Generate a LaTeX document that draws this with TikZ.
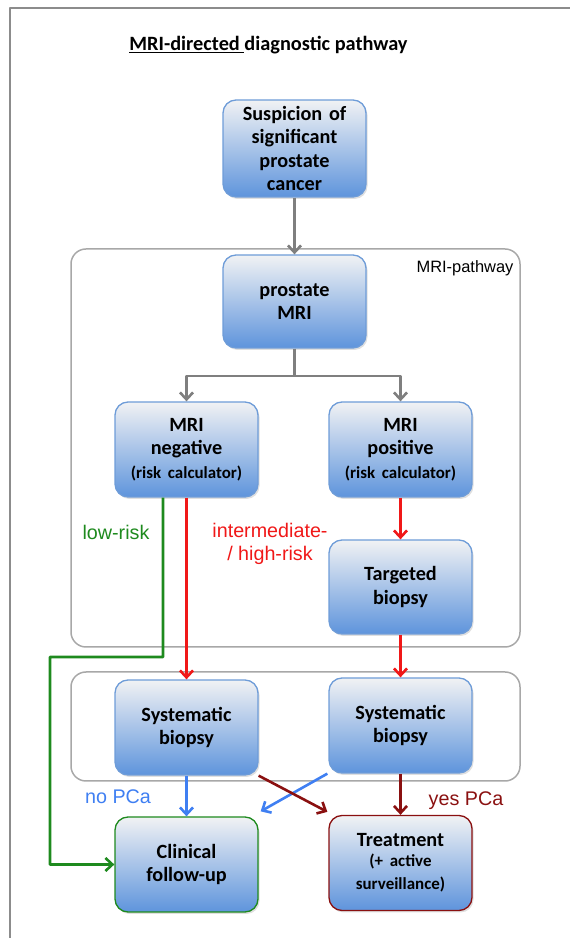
\documentclass[tikz,border=0pt]{standalone}
\usepackage{fontspec}
\setmainfont{Carlito}
\newfontfamily\labelfont{Liberation Sans}
\usetikzlibrary{arrows.meta,shadows}
\definecolor{boxtop}{HTML}{F1F2F4}
\definecolor{boxbot}{HTML}{5E94DC}
\definecolor{boxline}{HTML}{6E9CD8}
\definecolor{framegray}{HTML}{A8A8A8}
\definecolor{pagegray}{HTML}{8C8C8C}
\definecolor{arrowgray}{HTML}{7F7F7F}
\definecolor{riskred}{HTML}{F01818}
\definecolor{lowgreen}{HTML}{1E8A1E}
\definecolor{noblue}{HTML}{3F7FF2}
\definecolor{yesred}{HTML}{8A1010}
\begin{document}
\begin{tikzpicture}[>={Straight Barb[length=7bp,width=13bp]},line join=bevel,
  stepbox/.style={rounded corners=13bp,minimum width=143bp,minimum height=95bp,inner sep=2bp,
    top color=boxtop,bottom color=boxbot,draw=boxline,line width=1.3bp,
    text width=139bp,align=center,font=\fontsize{20.3}{23.5}\selectfont\bfseries,
    drop shadow={opacity=0.25,shadow xshift=1.5bp,shadow yshift=-2bp}},
  groupframe/.style={draw=framegray,line width=1.5bp,rounded corners=15bp,inner sep=0pt},
  flow/.style={->,line width=2.6bp},
  pathlabel/.style={font=\labelfont\fontsize{19.8}{23}\selectfont,align=center,inner sep=0pt}]
%%
\useasboundingbox (0bp,0bp) rectangle (570bp,938bp);
\draw [pagegray,line width=2bp] (10bp,0bp) -- (10bp,930bp) -- (570bp,930bp);
%
\node (node_title) at (268.5bp,893bp) [font=\fontsize{20.4}{24}\selectfont\bfseries] {\underline{MRI-directed\ }diagnostic pathway};
%
\node (node_mripath) at (295.5bp,490bp) [groupframe,minimum width=449bp,minimum height=398bp] {};
\node (node_mripath_label) at (465bp,670bp) [font=\labelfont\fontsize{16.5}{20}\selectfont] {MRI-pathway};
\node (node_biopsies) at (295.5bp,211.5bp) [groupframe,minimum width=449bp,minimum height=109bp] {};
%
\node (node_suspicion) at (294.5bp,789.5bp) [stepbox,minimum height=97bp] {Suspicion of\\significant\\prostate\\cancer};
\node (node_mri) at (294.5bp,636.5bp) [stepbox,minimum height=93bp] {prostate\\MRI};
\node (node_negative) at (186.5bp,488.5bp) [stepbox] {MRI\\negative\\{\fontsize{17}{20}\selectfont (risk calculator)}};
\node (node_positive) at (400.5bp,488.5bp) [stepbox] {MRI\\positive\\{\fontsize{17}{20}\selectfont (risk calculator)}};
\node (node_targeted) at (400.5bp,351bp) [stepbox,minimum height=94bp] {Targeted\\biopsy};
\node (node_sys_left) at (186.5bp,210.5bp) [stepbox] {Systematic\\biopsy};
\node (node_sys_right) at (400.5bp,212.5bp) [stepbox] {Systematic\\biopsy};
\node (node_followup) at (186.5bp,73.5bp) [stepbox,draw=lowgreen] {Clinical\\follow-up};
\node (node_treatment) at (400.5bp,75bp) [stepbox,draw=yesred] {Treatment\\{\fontsize{17}{20}\selectfont (+ active\\surveillance)}};
%
\coordinate (branch) at (294.5bp,562bp);
\coordinate (lowrisk_turn) at (163bp,281bp);
\coordinate (lowrisk_side) at (50bp,281bp);
%
\draw [arrowgray,flow] (node_suspicion) -- (node_mri.north);
\draw [arrowgray,flow] (node_mri.south) -- (branch) -| (node_negative.north);
\draw [arrowgray,flow] (branch) -| (node_positive.north);
%
\draw [lowgreen,flow] ([xshift=-23.5bp]node_negative.south) -- (lowrisk_turn) -- (lowrisk_side) |- (node_followup.west);
\draw [riskred,flow] (node_negative.south) -- (node_sys_left.north);
\draw [riskred,flow] (node_positive.south) -- (node_targeted.north);
\draw [riskred,flow] (node_targeted.south) -- (node_sys_right.north);
%
\draw [noblue,flow] (node_sys_left.south) -- (node_followup.north);
\draw [noblue,flow] ([xshift=-1bp]node_sys_right.south west) -- ([xshift=2bp,yshift=5bp]node_followup.north east);
\draw [yesred,flow] (node_sys_left.south east) -- ([xshift=-1bp,yshift=3bp]node_treatment.north west);
\draw [yesred,flow] (node_sys_right.south) -- (node_treatment.north);
%
\node (node_lowrisk) at (116bp,406bp) [pathlabel,text=lowgreen] {low-risk};
\node (node_highrisk) at (270bp,394bp) [pathlabel,text=riskred] {intermediate-\\/ high-risk};
\node (node_nopca) at (118bp,141bp) [pathlabel,text=noblue] {no PCa};
\node (node_yespca) at (466bp,137bp) [pathlabel,text=yesred] {yes PCa};
%
\end{tikzpicture}
\end{document}
